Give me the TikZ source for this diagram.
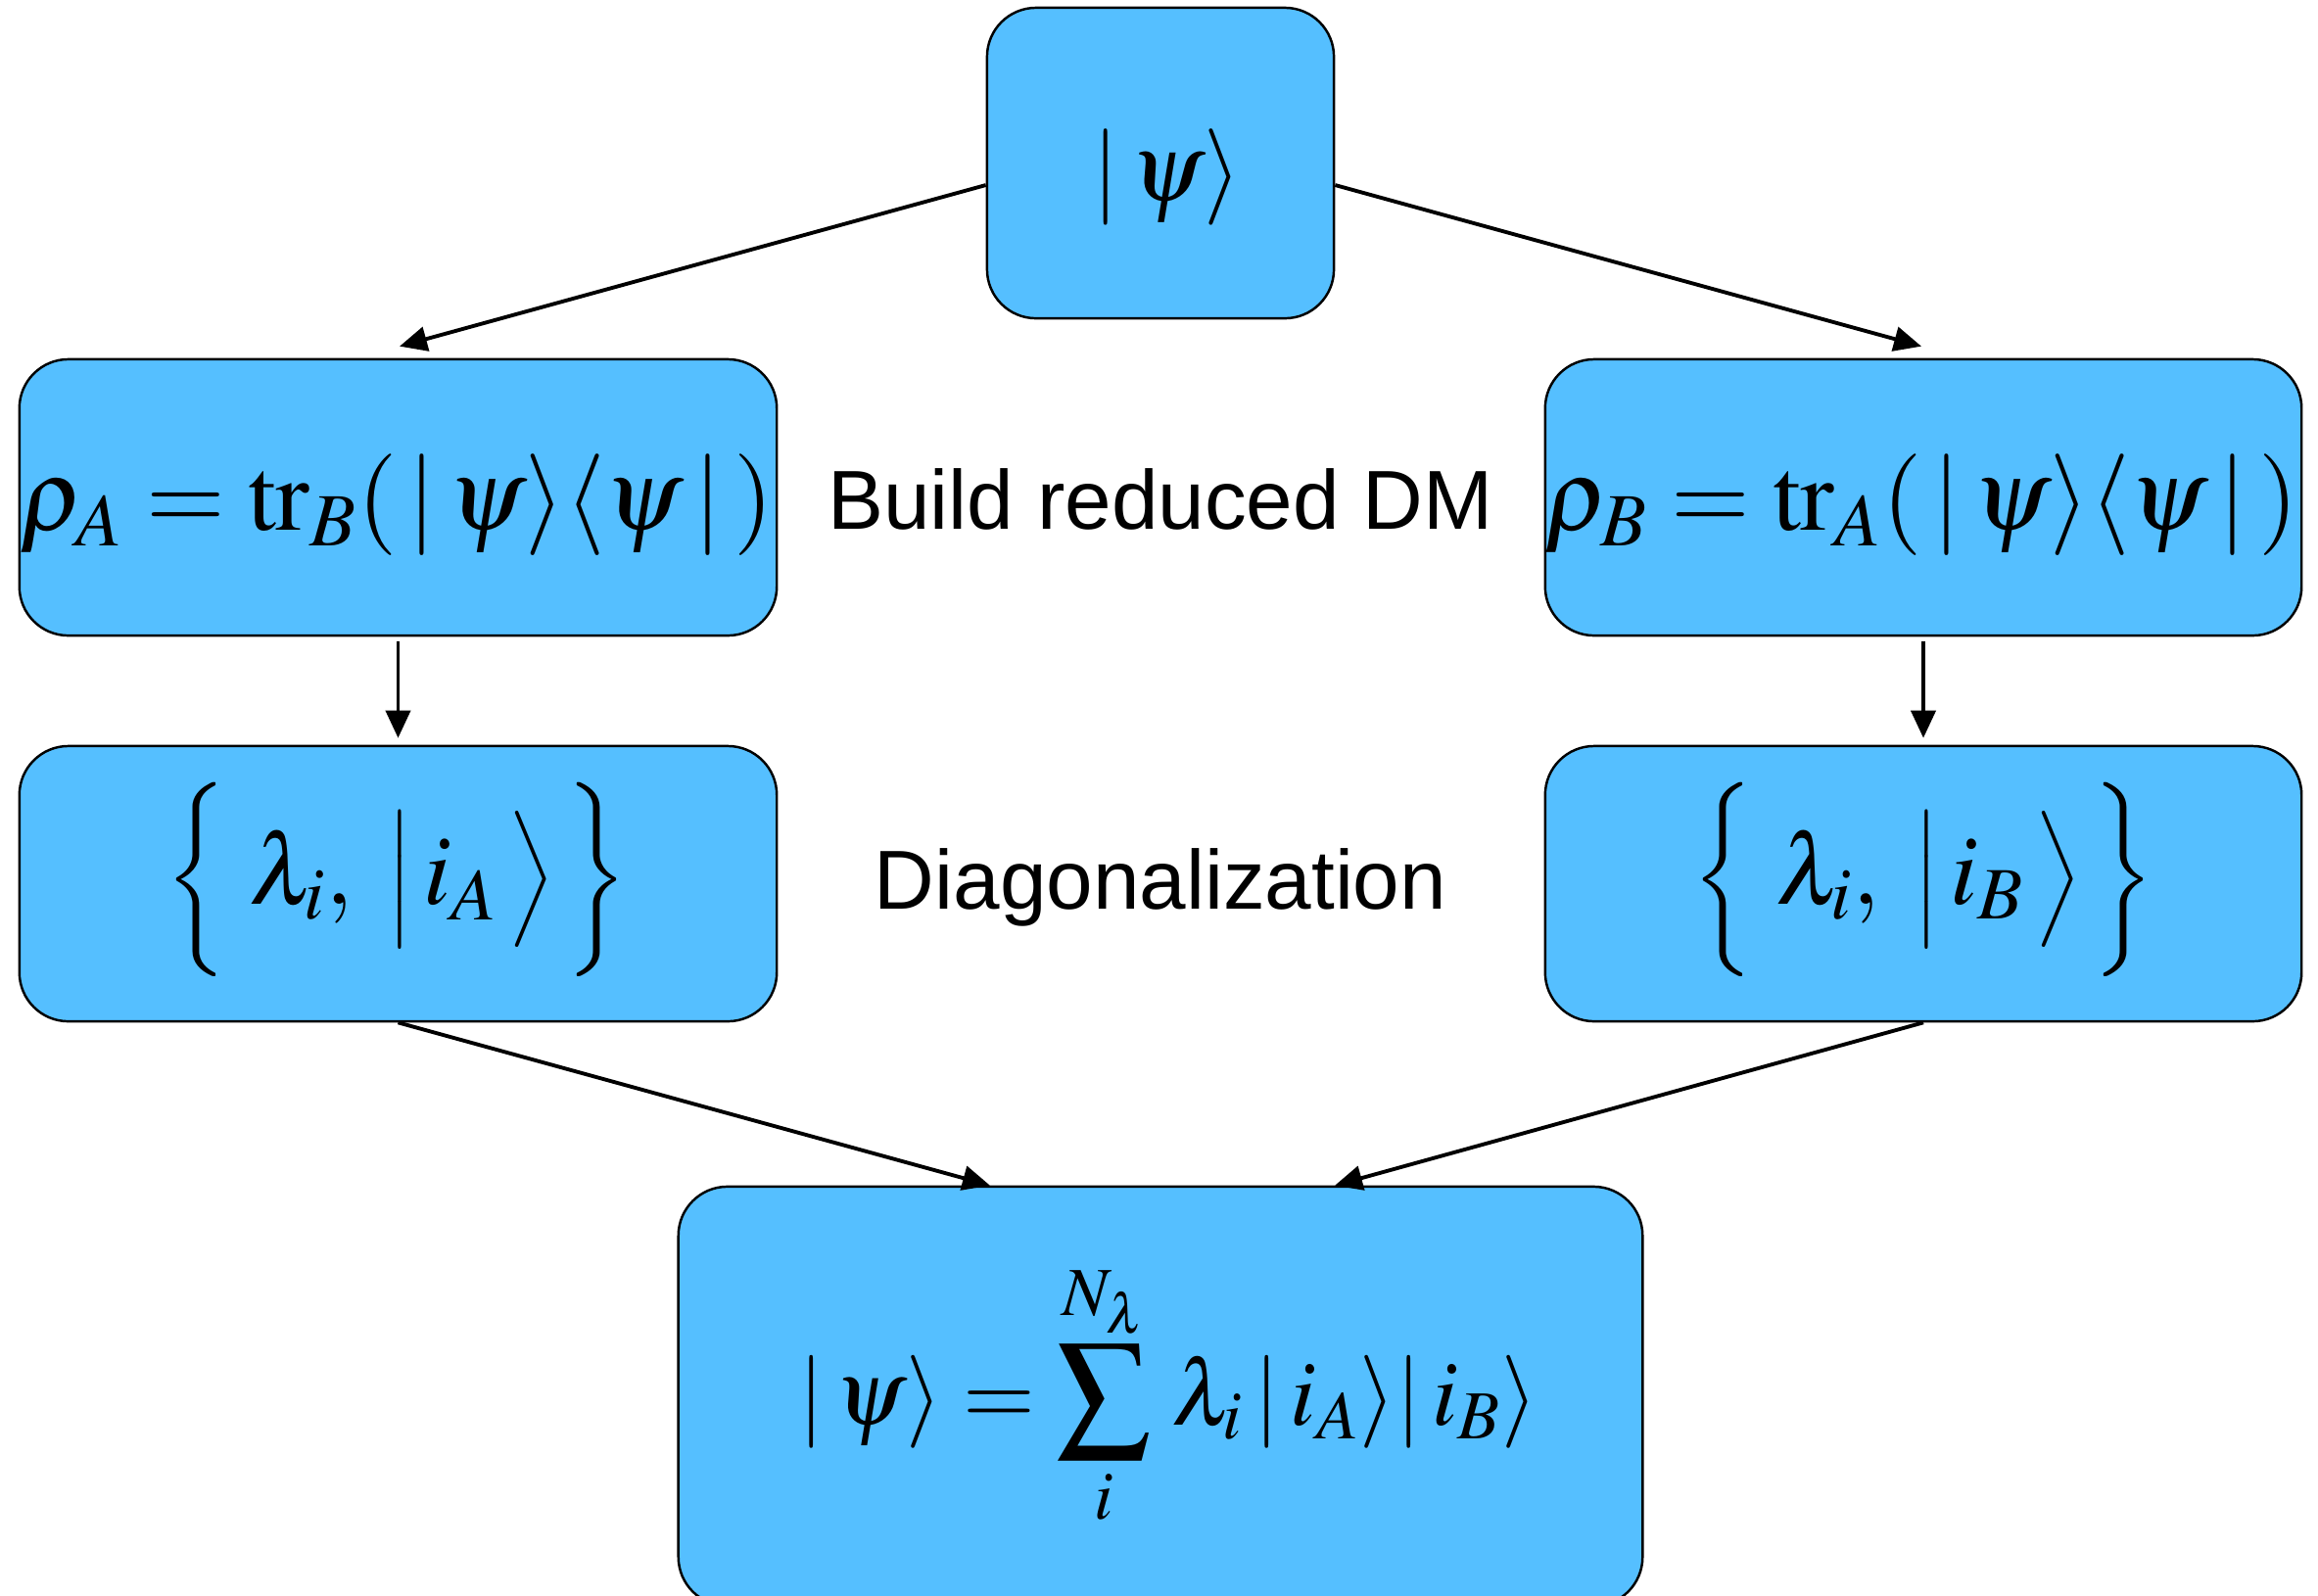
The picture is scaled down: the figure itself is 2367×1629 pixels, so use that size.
\documentclass[tikz,border=0pt]{standalone}
\usepackage{mathptmx}
\usepackage[no-math]{fontspec}
\newfontfamily\hv{Liberation Sans}
\usetikzlibrary{arrows.meta,calc}
\definecolor{boxblue}{RGB}{85,191,255}
\newcommand{\szdelim}[2]{\vcenter{\hbox{\fontsize{#1}{#1}\selectfont$#2$}}}
\tikzset{
 box/.style={draw=black, line width=0.7pt, fill=boxblue, rounded corners=0.5cm, inner sep=0pt},
 conn/.style={-{Triangle[length=0.28cm,width=0.25cm]}, line width=1.1pt},
 lbl/.style={font=\hv\fontsize{24.3}{29}\selectfont, inner sep=0pt},
 fml/.style={inner sep=0pt}
}
\begin{document}
\begin{tikzpicture}[x=0.01cm,y=-0.01cm]
\useasboundingbox (0,0) rectangle (2367,1629);
% boxes
\node[box, minimum width=3.54cm, minimum height=3.17cm] (top) at (1185,166.5) {};
\node[box, minimum width=7.73cm, minimum height=2.82cm] (L1) at (406.5,508) {};
\node[box, minimum width=7.72cm, minimum height=2.82cm] (R1) at (1964,508) {};
\node[box, minimum width=7.73cm, minimum height=2.81cm] (L2) at (406.5,902.5) {};
\node[box, minimum width=7.72cm, minimum height=2.81cm] (R2) at (1964,902.5) {};
\node[box, minimum width=9.84cm, minimum height=4.28cm] (B) at (1185,1426) {};
% formulas
\node[fml] (ftop) at (1192,181) {\fontsize{28}{34}\selectfont$|\,\psi\rangle$};
\node[fml] (fL1) at (405,516) {\fontsize{29.5}{35}\selectfont$\rho_A=\mathrm{tr}_B(\,|\,\psi\rangle\langle\psi\,|\,)$};
\node[fml] (fR1) at (1962,516) {\fontsize{29.5}{35}\selectfont$\rho_B=\mathrm{tr}_A(\,|\,\psi\rangle\langle\psi\,|\,)$};
\node[fml] (fL2) at (405,898) {\fontsize{29}{34}\selectfont$\szdelim{23.5}{\bigg\{}\;\lambda_i,\;\szdelim{22}{\Big|}\,i_A\,\szdelim{22}{\Big\rangle}\,\szdelim{23.5}{\bigg\}}$};
\node[fml] (fR2) at (1964,898) {\fontsize{29}{34}\selectfont$\szdelim{23.5}{\bigg\{}\;\lambda_i,\;\szdelim{22}{\Big|}\,i_B\,\szdelim{22}{\Big\rangle}\,\szdelim{23.5}{\bigg\}}$};
\node[fml] (fB) at (1193,1425) {\fontsize{27}{32}\selectfont$\displaystyle|\,\psi\rangle=\sum_{i}^{N_\lambda}\,\lambda_i\,|\,i_A\rangle|\,i_B\rangle$};
% labels
\node[lbl] (build) at (1185,510) {Build reduced DM};
\node[lbl] (diag) at (1185,906) {Diagonalization};
% connectors
\draw[conn] ([yshift=-0.225cm]top.west) -- ([yshift=0.12cm,xshift=0.015cm]L1.north);
\draw[conn] ([yshift=-0.225cm]top.east) -- ([yshift=0.12cm,xshift=-0.02cm]R1.north);
\draw[conn] ([yshift=-0.05cm]L1.south) -- ([yshift=0.07cm]L2.north);
\draw[conn] ([yshift=-0.05cm]R1.south) -- ([yshift=0.07cm]R2.north);
\draw[conn] (L2.south) -- ([xshift=-1.74cm]B.north);
\draw[conn] (R2.south) -- ([xshift=1.78cm]B.north);
\end{tikzpicture}
\end{document}
